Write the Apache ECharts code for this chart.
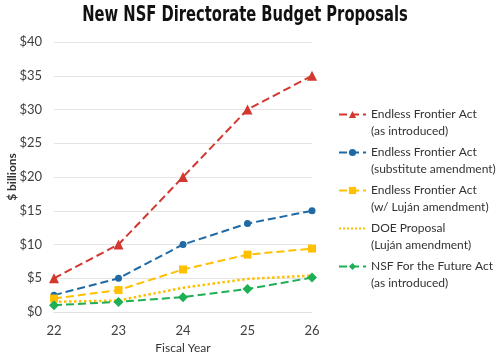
<!DOCTYPE html>
<html><head><meta charset="utf-8">
<script src="https://cdn.jsdelivr.net/npm/echarts@6/dist/echarts.min.js"></script>
<style>html,body{margin:0;padding:0;background:#fff}#c{width:500px;height:357px}</style>
</head><body><div id="c"></div>
<script>
var years = ['22','23','24','25','26'];
var efaIntroduced = [5, 10, 20, 30, 35];
var efaSubstitute = [2.5, 5, 10, 13.1, 15];
var efaLujan = [2, 3.25, 6.3, 8.5, 9.4];
var doeProposal = [1.5, 1.7, 3.6, 4.9, 5.4];
var nsfFuture = [1, 1.5, 2.2, 3.4, 5.1];
var yTicks = ['$0','$5','$10','$15','$20','$25','$30','$35','$40'];
var titleText = 'New NSF Directorate Budget Proposals';

var names = [
  'Endless Frontier Act\n(as introduced)',
  'Endless Frontier Act\n(substitute amendment)',
  'Endless Frontier Act\n(w/ Luján amendment)',
  'DOE Proposal\n(Luján amendment)',
  'NSF For the Future Act\n(as introduced)'
];
var font = 'Lato, "Open Sans", sans-serif';
function mk(name, data, color, symbol, size, ltype, lw, showSym) {
  return {
    name: name, type: 'line', data: data, symbol: symbol, symbolSize: size,
    showSymbol: showSym, animation: false,
    lineStyle: {color: color, type: ltype, width: lw},
    itemStyle: {color: color}
  };
}
var chart = echarts.init(document.getElementById('c'));
chart.setOption({
  animation: false,
  graphic: [{
    type: 'text', x: 245, y: 16, scaleX: 0.78, scaleY: 1,
    style: {text: titleText, textAlign: 'center', textVerticalAlign: 'middle',
      font: 'bold 21px "DejaVu Sans Condensed", sans-serif', fill: '#111'}
  }],
  grid: {left: 54, right: 188, top: 42, bottom: 45, containLabel: false, outerBoundsMode: 'none'},
  legend: {
    orient: 'vertical', left: 333, top: 84, itemWidth: 27, itemHeight: 9, itemGap: -13,
    data: [names[0], names[1], names[2], {name: names[3], itemStyle: {color: 'rgba(0,0,0,0)', borderWidth: 0}}, names[4]],
    formatter: function(n){ return '\n' + n; },
    textStyle: {fontFamily: font, fontSize: 12, color: '#333', lineHeight: 17}
  },
  xAxis: {
    type: 'category', data: years, boundaryGap: false,
    name: 'Fiscal Year', nameLocation: 'middle', nameGap: 30, nameMoveOverlap: false,
    nameTextStyle: {fontFamily: font, fontSize: 12, color: '#333'},
    axisLine: {lineStyle: {color: '#e0e0e0'}}, axisTick: {show: false},
    axisLabel: {fontFamily: font, fontSize: 13, color: '#404040', margin: 12}
  },
  yAxis: {
    type: 'value', min: 0, max: 40, interval: 5,
    name: '$ billions', nameLocation: 'middle', nameGap: 36, nameMoveOverlap: false,
    nameTextStyle: {fontFamily: font, fontSize: 12, color: '#333', fontWeight: 'bold'},
    axisLine: {show: false}, axisTick: {show: false},
    splitLine: {lineStyle: {color: '#e4e4e4'}},
    axisLabel: {fontFamily: font, fontSize: 13, color: '#404040', margin: 12,
      formatter: function(v){ return yTicks[v/5]; }}
  },
  series: [
    mk(names[0], efaIntroduced, '#d2382f', 'triangle', 10, 'dashed', 2, true),
    mk(names[1], efaSubstitute, '#1f6aa5', 'circle', 7, 'dashed', 2, true),
    mk(names[2], efaLujan, '#ffc000', 'rect', 8, 'dashed', 2, true),
    mk(names[3], doeProposal, '#ffc000', 'none', 1, 'dotted', 2.5, false),
    mk(names[4], nsfFuture, '#1faf54', 'diamond', 10, 'dashed', 2, true)
  ]
});
</script></body></html>
